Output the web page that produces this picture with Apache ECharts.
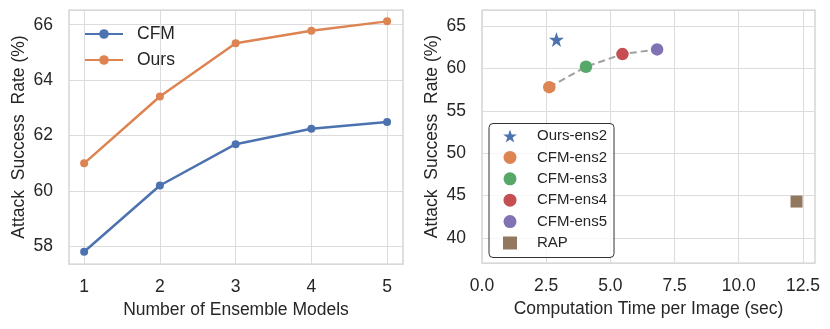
<!DOCTYPE html>
<html>
<head>
<meta charset="utf-8">
<script src="https://cdn.jsdelivr.net/npm/echarts@6/dist/echarts.min.js"></script>
<style>html,body{margin:0;padding:0;background:#fff}#c{width:830px;height:329px}</style>
</head>
<body>
<div id="c"></div>
<script>
// ---- data ----
const ensembleCounts = [1, 2, 3, 4, 5];
const cfmRate = [57.81, 60.2, 61.69, 62.25, 62.49];
const oursRate = [61.0, 63.41, 65.33, 65.78, 66.12];
const leftXTicks = [1, 2, 3, 4, 5];
const leftYTicks = [58, 60, 62, 64, 66];

const methodNames = ['Ours-ens2', 'CFM-ens2', 'CFM-ens3', 'CFM-ens4', 'CFM-ens5', 'RAP'];
const methodTime = [2.9, 2.62, 4.05, 5.47, 6.82, 12.25];
const methodRate = [63.42, 57.8, 60.2, 61.7, 62.25, 44.3];
const rightXTicks = [0, 2.5, 5, 7.5, 10, 12.5];
const rightYTicks = [40, 45, 50, 55, 60, 65];

// ---- styles ----
const FONT = "'Liberation Sans', Arial, sans-serif";
const TXT = '#262626';
const GRIDC = '#dcdcdc';
const colors = ['#4C72B0', '#DD8452', '#55A868', '#C44E52', '#8172B3', '#937860'];
const STAR = 'path://M50,0 L61.8,35.1 L98.1,35.1 L68.8,56.7 L79.4,91 L50,70 L20.6,91 L31.2,56.7 L1.9,35.1 L38.2,35.1 Z';
const methodSymbols = [STAR, 'circle', 'circle', 'circle', 'circle', 'rect'];
const methodSizes = [15, 12.5, 12.5, 12.5, 12.5, 12];

function valAxis(gridIndex, min, max, ticks, extra, labelExtra) {
  return Object.assign({
    type: 'value', gridIndex, min, max,
    axisLine: { show: false },
    axisTick: { show: false, customValues: ticks },
    axisLabel: Object.assign({ customValues: ticks, color: TXT, fontSize: 17.5, fontFamily: FONT }, labelExtra || {}),
    splitLine: { show: true, lineStyle: { color: GRIDC, width: 1 } },
    nameTextStyle: { color: TXT, fontSize: 17.5, fontFamily: FONT }
  }, extra);
}

const series = [
  { name: 'CFM', type: 'line', xAxisIndex: 0, yAxisIndex: 0,
    data: ensembleCounts.map((x, i) => [x, cfmRate[i]]),
    symbol: 'circle', symbolSize: 8, color: colors[0],
    lineStyle: { width: 2.5 }, itemStyle: { color: colors[0] } },
  { name: 'Ours', type: 'line', xAxisIndex: 0, yAxisIndex: 0,
    data: ensembleCounts.map((x, i) => [x, oursRate[i]]),
    symbol: 'circle', symbolSize: 8, color: colors[1],
    lineStyle: { width: 2.5 }, itemStyle: { color: colors[1] } },
  { name: 'cfm-trend', type: 'line', xAxisIndex: 1, yAxisIndex: 1,
    data: methodTime.slice(1, 5).map((x, i) => [x, methodRate[i + 1]]),
    symbol: 'none', z: 1,
    lineStyle: { color: '#a0a0a0', width: 2, type: [7, 4] } }
];
methodNames.forEach((n, i) => {
  series.push({
    name: n, type: 'scatter', xAxisIndex: 1, yAxisIndex: 1, z: 3,
    data: [[methodTime[i], methodRate[i]]],
    symbol: methodSymbols[i], symbolSize: methodSizes[i],
    itemStyle: { color: colors[i], opacity: 1 }
  });
});

const chart = echarts.init(document.getElementById('c'), null, { renderer: 'canvas' });
chart.setOption({
  backgroundColor: '#fff',
  animation: false,
  textStyle: { fontFamily: FONT, color: TXT },
  grid: [
    { left: 69, top: 10, width: 334, height: 254, show: true, borderColor: '#cccccc', borderWidth: 1.25, containLabel: false },
    { left: 482, top: 10, width: 333, height: 253, show: true, borderColor: '#cccccc', borderWidth: 1.25, containLabel: false }
  ],
  xAxis: [
    valAxis(0, 0.8, 5.21, leftXTicks, { name: 'Number of Ensemble Models', nameLocation: 'middle', nameGap: 37 }, { margin: 14 }),
    valAxis(1, 0, 12.97, rightXTicks, { name: 'Computation Time per Image (sec)', nameLocation: 'middle', nameGap: 37 },
      { margin: 14, formatter: v => Number(v).toFixed(1) })
  ],
  yAxis: [
    valAxis(0, 57.37, 66.53, leftYTicks, { name: 'Attack  Success  Rate (%)', nameLocation: 'middle', nameGap: 41 }, { margin: 16 }),
    valAxis(1, 37.05, 66.9, rightYTicks, { name: 'Attack  Success  Rate (%)', nameLocation: 'middle', nameGap: 41 }, { margin: 16 })
  ],
  legend: [
    { data: ['CFM', 'Ours'], orient: 'vertical', left: 84, top: 25, padding: 0,
      itemWidth: 38, itemHeight: 12, itemGap: 8,
      textStyle: { color: TXT, fontSize: 17.5, fontFamily: FONT, padding: [0, 0, 0, 9] } },
    { data: methodNames, orient: 'vertical', left: 489, top: 123.5,
      padding: [5, 7, 7, 14], itemWidth: 14, itemHeight: 13, itemGap: 6.4,
      borderColor: '#333', borderWidth: 1, borderRadius: 4, backgroundColor: 'rgba(255,255,255,0.8)',
      textStyle: { color: TXT, fontSize: 15, fontFamily: FONT, padding: [0, 0, 0, 15] } }
  ],
  series
});
</script>
</body>
</html>
